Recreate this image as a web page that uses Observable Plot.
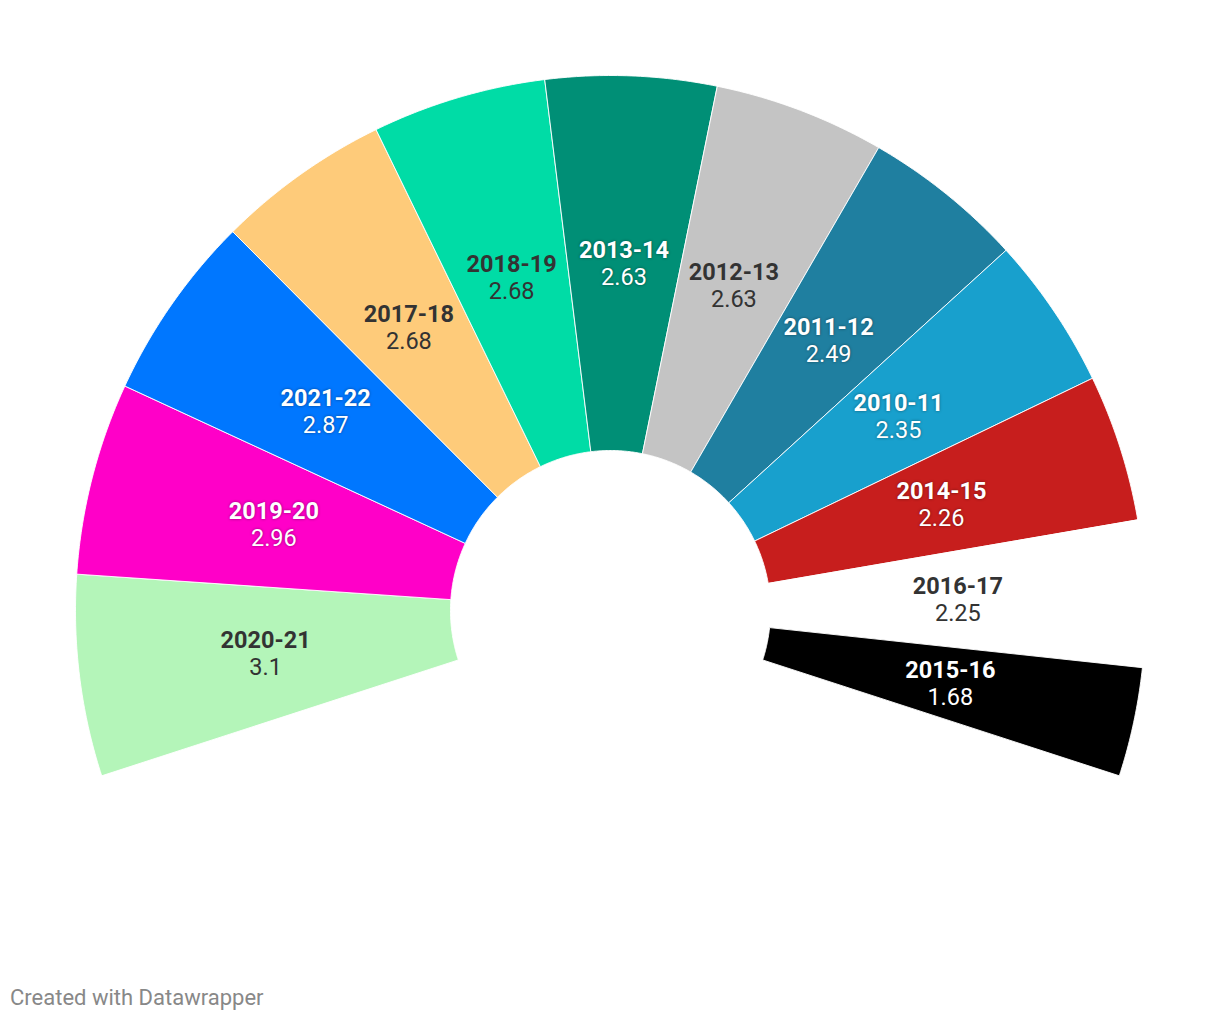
<!DOCTYPE html>
<html>
<head>
<meta charset="utf-8">
<script src="https://cdn.jsdelivr.net/npm/d3@7"></script>
<script src="https://cdn.jsdelivr.net/npm/@observablehq/plot@0.6"></script>
<style>
  html, body { margin: 0; padding: 0; background: #fff; }
  body { width: 1220px; font-family: Roboto, "Noto Sans", sans-serif; }
  #chart svg { display: block; }
  .footer { position: absolute; left: 10px; top: 985px; font-size: 22px; color: #888; font-family: Roboto, sans-serif; }
</style>
</head>
<body>
<div id="chart"></div>
<div class="footer">Created with Datawrapper</div>
<script>
// Data (ordered as drawn, left to right)
const years  = ["2020-21","2019-20","2021-22","2017-18","2018-19","2013-14","2012-13","2011-12","2010-11","2014-15","2016-17","2015-16"];
const values = [3.1, 2.96, 2.87, 2.68, 2.68, 2.63, 2.63, 2.49, 2.35, 2.26, 2.25, 1.68];
const colors = ["#b4f5b9","#ff00c8","#0077ff","#fecb7a","#00dca6","#008f76","#c4c4c4","#1f7fa0","#18a0cd","#c71e1d","#ffffff","#000000"];
const textColors = ["#333","#fff","#fff","#333","#333","#fff","#333","#fff","#fff","#fff","#333","#fff"];

// Layout
const W = 1220, H = 960;
const cx = 610, cy = 610;        // pixel position of center
const rIn = 160, rOut = 535;
const span = 1.2 * Math.PI;      // total angle of the half-donut
const start = -span / 2;

const total = d3.sum(values);
const polys = [];
const labels = [];
let acc = 0;
values.forEach((v, i) => {
  const a0 = start + acc / total * span;
  acc += v;
  const a1 = start + acc / total * span;
  const n = Math.max(8, Math.ceil((a1 - a0) / (Math.PI / 360)));
  const pts = [];
  for (let k = 0; k <= n; k++) { const a = a0 + (a1 - a0) * k / n; pts.push([rOut * Math.sin(a), rOut * Math.cos(a)]); }
  for (let k = n; k >= 0; k--) { const a = a0 + (a1 - a0) * k / n; pts.push([rIn * Math.sin(a), rIn * Math.cos(a)]); }
  pts.push(pts[0]);
  pts.forEach(([x, y]) => polys.push({year: years[i], x, y, color: colors[i]}));
  const am = (a0 + a1) / 2, rm = (rIn + rOut) / 2;
  labels.push({year: years[i], value: String(values[i]), x: rm * Math.sin(am), y: rm * Math.cos(am), tc: textColors[i]});
});

const chart = Plot.plot({
  width: W,
  height: H,
  margin: 0,
  x: {domain: [-cx, W - cx], range: [0, W], axis: null},
  y: {domain: [cy - H, cy], range: [H, 0], axis: null},
  color: {type: "identity"},
  marks: [
    Plot.line(polys, {x: "x", y: "y", z: "year", fill: "color", stroke: "#fff", strokeWidth: 1, strokeOpacity: 0.9, curve: "linear"}),
    Plot.text(labels, {x: "x", y: "y", text: "year", dy: -13, fill: "tc", fontSize: 23.5, fontWeight: "bold", fontFamily: "Roboto"}),
    Plot.text(labels, {x: "x", y: "y", text: "value", dy: 14, fill: "tc", fontSize: 23.5, fontFamily: "Roboto"})
  ]
});
chart.querySelectorAll("text").forEach(t => {
  if (t.getAttribute("fill") === "#fff") t.style.textShadow = "0 0 3px rgba(0,0,0,0.45)";
});
document.getElementById("chart").append(chart);
</script>
</body>
</html>
